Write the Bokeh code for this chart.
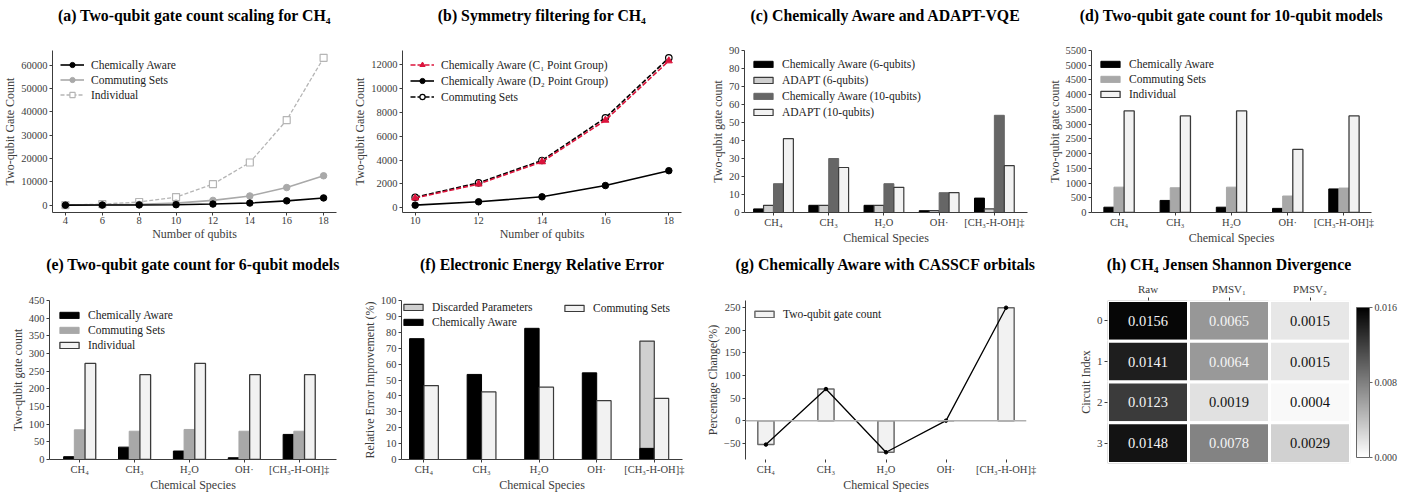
from bokeh.plotting import figure
from bokeh.layouts import row, column
from bokeh.models import (Range1d, FixedTicker, Legend, LegendItem, LinearColorMapper, ColorBar,
                          Span, PrintfTickFormatter, NumeralTickFormatter, ColumnDataSource, Title)
from bokeh.core.properties import value
from bokeh.embed import file_html
from bokeh.resources import INLINE

FONT = "Liberation Serif"

# ---------------- data ----------------
qubits_a = [4, 6, 8, 10, 12, 14, 16, 18]
a_chem = [10, 40, 100, 200, 480, 900, 1850, 3100]
a_comm = [20, 110, 350, 860, 2050, 3950, 7550, 12600]
a_indiv = [50, 450, 1350, 3450, 9000, 18300, 36500, 63200]

qubits_b = [10, 12, 14, 16, 18]
b_c1 = [800, 1980, 3850, 7350, 12350]
b_d2 = [200, 480, 900, 1850, 3100]
b_comm = [860, 2080, 3960, 7550, 12600]

species = ["CH₄", "CH₃", "H₂O", "OH·", "[CH₃-H-OH]‡"]

c_chem6 = [2, 4, 4, 1, 8]
c_adapt6 = [4, 4, 4, 1, 2]
c_chem10 = [16, 30, 16, 11, 54]
c_adapt10 = [41, 25, 14, 11, 26]

d_chem = [180, 410, 180, 140, 800]
d_comm = [860, 840, 860, 560, 830]
d_indiv = [3450, 3280, 3450, 2140, 3280]

e_chem = [8, 35, 24, 5, 71]
e_comm = [84, 80, 85, 80, 80]
e_indiv = [272, 240, 272, 240, 240]

f_chem = [76, 53.5, 82.5, 54.5, 7]
f_comm = [46.5, 42.5, 45.5, 37, 38.5]
f_discarded = [0, 0, 0, 0, 74.5]

g_change = [-53, 70, -70, 0, 250]

h_methods = ["Raw", "PMSV₁", "PMSV₂"]
h_circuits = ["0", "1", "2", "3"]
h_raw = [0.0156, 0.0141, 0.0123, 0.0148]
h_pmsv1 = [0.0065, 0.0064, 0.0019, 0.0078]
h_pmsv2 = [0.0015, 0.0015, 0.0004, 0.0029]
h_vmax = 0.016

# ---------------- layout constants ----------------
TOP_H, BOT_H = 247, 247
TOP_BB, BOT_BB = 35, 31
TOP_STAND, TOP_SPACER = 9, 19
BOT_STAND, BOT_SPACER = 13, 18
AX = "#3c3c3c"


def padded(vals, frac=0.05):
    lo, hi = min(vals), max(vals)
    d = (hi - lo) * frac
    return Range1d(lo - d, hi + d)


def make_fig(w, h, bl, br, bb, xr, yr, title, standoff, spacer, xlabel=None, ylabel=None, **kw):
    p = figure(width=w, height=h, x_range=xr, y_range=yr, output_backend="svg",
               toolbar_location=None, min_border_left=bl, min_border_right=br,
               min_border_top=0, min_border_bottom=bb, title=title, **kw)
    p.frame_align = False
    p.title.text_font = FONT
    p.title.text_font_size = "15.8px"
    p.title.text_font_style = "bold"
    p.title.text_color = "black"
    p.title.align = "center"
    p.title.vertical_align = "bottom"
    p.title.standoff = standoff
    if spacer:
        p.add_layout(Title(text=" ", text_font_size="1px", standoff=spacer), "above")
    p.outline_line_color = None
    p.xgrid.visible = False
    p.ygrid.visible = False
    for ax in p.axis:
        ax.axis_line_color = AX
        ax.axis_line_width = 1
        ax.major_tick_line_color = AX
        ax.major_tick_out = 3
        ax.major_tick_in = 0
        ax.minor_tick_line_color = None
        ax.major_label_text_font = FONT
        ax.major_label_text_font_size = "10.5px"
        ax.major_label_text_color = AX
        ax.major_label_standoff = 2
        ax.axis_label_text_font = FONT
        ax.axis_label_text_font_size = "12px"
        ax.axis_label_text_font_style = "normal"
        ax.axis_label_text_color = AX
        ax.axis_label_standoff = 1
    p.xaxis.major_label_standoff = 1
    p.xaxis.axis_label_standoff = 0
    if xlabel:
        p.xaxis.axis_label = xlabel
    if ylabel:
        p.yaxis.axis_label = ylabel
    return p


def add_legend(p, items, spacing=2, glyph_h=13, padding=8, location="top_left"):
    lg = Legend(items=[LegendItem(label=l, renderers=r) for l, r in items],
                location=location, orientation="vertical",
                padding=padding, margin=0, spacing=spacing, glyph_width=24, glyph_height=glyph_h,
                label_height=13, label_standoff=7,
                label_text_font=FONT, label_text_font_size="11.5px", label_text_color="#222222",
                background_fill_alpha=0, border_line_alpha=0)
    p.add_layout(lg)


def cat_axis(p):
    p.xaxis.ticker = FixedTicker(ticks=list(range(len(species))))
    p.xaxis.major_label_overrides = {i: s for i, s in enumerate(species)}


def yticks(p, ticks):
    p.yaxis.ticker = FixedTicker(ticks=ticks)
    p.yaxis.formatter = NumeralTickFormatter(format="0")


idx = list(range(len(species)))

# ---------------- (a) ----------------
pa = make_fig(350, TOP_H, 52, 14, TOP_BB, padded(qubits_a), padded(a_chem + a_comm + a_indiv),
              "(a) Two-qubit gate count scaling for CH₄", TOP_STAND, TOP_SPACER,
              "Number of qubits", "Two-qubit Gate Count")
ri = pa.line(qubits_a, a_indiv, line_color="#b5b5b5", line_width=1.3, line_dash="4 2")
rim = pa.scatter(qubits_a, a_indiv, marker="square", size=7, fill_color="white", line_color="#b5b5b5", line_width=1.2)
rc = pa.line(qubits_a, a_comm, line_color="#a9a9a9", line_width=1.6)
rcm = pa.scatter(qubits_a, a_comm, marker="circle", size=6.5, fill_color="#a9a9a9", line_color="#a9a9a9")
rk = pa.line(qubits_a, a_chem, line_color="black", line_width=1.6)
rkm = pa.scatter(qubits_a, a_chem, marker="circle", size=6.5, fill_color="black", line_color="black")
pa.xaxis.ticker = FixedTicker(ticks=qubits_a)
yticks(pa, list(range(0, 60001, 10000)))
add_legend(pa, [("Chemically Aware", [rk, rkm]), ("Commuting Sets", [rc, rcm]), ("Individual", [ri, rim])])

# ---------------- (b) ----------------
pb = make_fig(356, TOP_H, 46, 25, TOP_BB, padded(qubits_b), padded(b_c1 + b_d2 + b_comm),
              "(b) Symmetry filtering for CH₄", TOP_STAND, TOP_SPACER,
              "Number of qubits", "Two-qubit Gate Count")
r2 = pb.line(qubits_b, b_d2, line_color="black", line_width=1.6)
r2m = pb.scatter(qubits_b, b_d2, marker="circle", size=6.5, fill_color="black", line_color="black")
rs = pb.line(qubits_b, b_comm, line_color="black", line_width=1.6, line_dash="5 2")
rsm = pb.scatter(qubits_b, b_comm, marker="circle", size=6.5, fill_color="white", line_color="black", line_width=1.2)
r1 = pb.line(qubits_b, b_c1, line_color="#dc143c", line_width=1.6, line_dash="5 2")
r1m = pb.scatter(qubits_b, b_c1, marker="triangle", size=7, fill_color="#dc143c", line_color="#dc143c")
pb.xaxis.ticker = FixedTicker(ticks=qubits_b)
yticks(pb, list(range(0, 12001, 2000)))
add_legend(pb, [("Chemically Aware (C₁ Point Group)", [r1, r1m]),
                ("Chemically Aware (D₂ Point Group)", [r2, r2m]),
                ("Commuting Sets", [rs, rsm])], spacing=3)

# ---------------- (c) ----------------
wc = 0.18
pc = make_fig(338, TOP_H, 38, 17, TOP_BB, Range1d(-0.525, 4.6), Range1d(0, 90),
              "(c) Chemically Aware and ADAPT-VQE", TOP_STAND, TOP_SPACER,
              "Chemical Species", "Two-qubit gate count")
rc1 = pc.vbar(x=[i - 1.5 * wc for i in idx], top=c_chem6, width=wc, fill_color="black", line_color="black")
rc2 = pc.vbar(x=[i - 0.5 * wc for i in idx], top=c_adapt6, width=wc, fill_color="#cfcfcf", line_color="#3a3a3a", line_width=1.2)
rc3 = pc.vbar(x=[i + 0.5 * wc for i in idx], top=c_chem10, width=wc, fill_color="#666666", line_color="#666666")
rc4 = pc.vbar(x=[i + 1.5 * wc for i in idx], top=c_adapt10, width=wc, fill_color="#f2f2f2", line_color="#3a3a3a", line_width=1.2)
cat_axis(pc)
yticks(pc, list(range(0, 91, 10)))
add_legend(pc, [("Chemically Aware (6-qubits)", [rc1]), ("ADAPT (6-qubits)", [rc2]),
                ("Chemically Aware (10-qubits)", [rc3]), ("ADAPT (10-qubits)", [rc4])],
           spacing=3, glyph_h=8, padding=7)

# ---------------- (d) ----------------
wd = 0.18
pd_ = make_fig(362, TOP_H, 41, 35, TOP_BB, Range1d(-0.49, 4.49), Range1d(0, 5500),
               "(d) Two-qubit gate count for 10-qubit models", TOP_STAND, TOP_SPACER,
               "Chemical Species", "Two-qubit gate count")
rd1 = pd_.vbar(x=[i - wd for i in idx], top=d_chem, width=wd, fill_color="black", line_color="black")
rd2 = pd_.vbar(x=idx, top=d_comm, width=wd, fill_color="#a8a8a8", line_color="#a8a8a8")
rd3 = pd_.vbar(x=[i + wd for i in idx], top=d_indiv, width=wd, fill_color="#f2f2f2", line_color="#3a3a3a", line_width=1.3)
cat_axis(pd_)
yticks(pd_, list(range(0, 5501, 500)))
add_legend(pd_, [("Chemically Aware", [rd1]), ("Commuting Sets", [rd2]), ("Individual", [rd3])],
           glyph_h=8, padding=7)

# ---------------- (e) ----------------
we = 0.195
pe = make_fig(355, BOT_H, 49, 19, BOT_BB, Range1d(-0.55, 4.68), Range1d(0, 450),
              "(e) Two-qubit gate count for 6-qubit models", BOT_STAND, BOT_SPACER,
              "Chemical Species", "Two-qubit gate count")
re1 = pe.vbar(x=[i - we for i in idx], top=e_chem, width=we, fill_color="black", line_color="black")
re2 = pe.vbar(x=idx, top=e_comm, width=we, fill_color="#a8a8a8", line_color="#a8a8a8")
re3 = pe.vbar(x=[i + we for i in idx], top=e_indiv, width=we, fill_color="#f2f2f2", line_color="#3a3a3a", line_width=1.3)
cat_axis(pe)
yticks(pe, list(range(0, 451, 50)))
add_legend(pe, [("Chemically Aware", [re1]), ("Commuting Sets", [re2]), ("Individual", [re3])],
           glyph_h=8, padding=8)

# ---------------- (f) ----------------
wf = 0.25
pf = make_fig(348, BOT_H, 46, 21, BOT_BB, Range1d(-0.39, 4.49), Range1d(0, 100),
              "(f) Electronic Energy Relative Error", BOT_STAND, BOT_SPACER,
              "Chemical Species", "Relative Error Improvement (%)")
rf0 = pf.vbar(x=[i - wf / 2 for i in idx], top=f_discarded, width=wf, fill_color="#d0d0d0", line_color="#3a3a3a", line_width=1.2)
rf1 = pf.vbar(x=[i - wf / 2 for i in idx], top=f_chem, width=wf, fill_color="black", line_color="black")
rf2 = pf.vbar(x=[i + wf / 2 for i in idx], top=f_comm, width=wf, fill_color="#f2f2f2", line_color="#3a3a3a", line_width=1.2)
cat_axis(pf)
yticks(pf, list(range(0, 101, 10)))
add_legend(pf, [("Discarded Parameters", [rf0]), ("Chemically Aware", [rf1])], glyph_h=8, padding=0)
F_FH = 160
add_legend(pf, [("Commuting Sets", [rf2])], glyph_h=8, padding=0, location=(161, F_FH - 15))

# ---------------- (g) ----------------
wg = 0.27
pg = make_fig(337, BOT_H, 38, 14, BOT_BB, Range1d(-0.34, 4.34), padded(g_change),
              "(g) Chemically Aware with CASSCF orbitals", BOT_STAND, BOT_SPACER,
              "Chemical Species", "Percentage Change(%)")
pg.add_layout(Span(location=0, dimension="width", line_color="#b0b0b0", line_width=1.5))
rg = pg.vbar(x=idx, top=g_change, width=wg, fill_color="#f2f2f2", line_color="#6a6a6a", line_width=1.5)
pg.line(idx, g_change, line_color="black", line_width=1.3)
pg.scatter(idx, g_change, marker="circle", size=3.5, fill_color="black", line_color="black")
cat_axis(pg)
pg.xaxis.axis_line_color = None
pg.yaxis.ticker = FixedTicker(ticks=list(range(-50, 251, 50)))
pg.yaxis.major_label_overrides = {-50: "−50"}
add_legend(pg, [("Two-qubit gate count", [rg])], glyph_h=8, padding=7)

# ---------------- (h) ----------------
ph = make_fig(366, BOT_H, 67, 55, BOT_BB, Range1d(0, len(h_methods)), Range1d(len(h_circuits), 0),
              "(h) CH₄ Jensen Shannon Divergence", BOT_STAND, 0, None, "Circuit Index",
              x_axis_location="above")
palette = ["#%02x%02x%02x" % (v, v, v) for v in range(255, -1, -1)]
mapper = LinearColorMapper(palette=palette, low=0, high=h_vmax)
hx, hy, hv, ht, hc = [], [], [], [], []
for j, col in enumerate([h_raw, h_pmsv1, h_pmsv2]):
    for i, v in enumerate(col):
        hx.append(j + 0.5)
        hy.append(i + 0.5)
        hv.append(v)
        ht.append("%.4f" % v)
        g = 1 - min(v / h_vmax, 1)
        lum = g ** 2.2
        hc.append("#f5f5f5" if lum < 0.408 else "#111111")
src = ColumnDataSource(dict(x=hx, y=hy, v=hv, t=ht, c=hc))
ph.rect(x="x", y="y", width=1, height=1, source=src, fill_color={"field": "v", "transform": mapper},
        line_color="white", line_width=3)
ph.text(x="x", y="y", text="t", source=src, text_color="c", text_align="center", text_baseline="middle",
        text_font=value(FONT), text_font_size="14.5px")
ph.xaxis.ticker = FixedTicker(ticks=[j + 0.5 for j in range(len(h_methods))])
ph.xaxis.major_label_overrides = {j + 0.5: m for j, m in enumerate(h_methods)}
ph.yaxis.ticker = FixedTicker(ticks=[i + 0.5 for i in range(len(h_circuits))])
ph.yaxis.major_label_overrides = {i + 0.5: c for i, c in enumerate(h_circuits)}
for ax in ph.axis:
    ax.axis_line_color = None
    ax.major_label_text_font_size = "11px"
ph.xaxis.major_label_standoff = 3
cb = ColorBar(color_mapper=mapper, ticker=FixedTicker(ticks=[0, h_vmax / 2, h_vmax]),
              formatter=PrintfTickFormatter(format="%.3f"), width=13, height=150, padding=6, margin=0,
              location="center_left", bar_line_color="#666666", bar_line_width=1,
              major_tick_line_color="#666666", major_tick_out=3, major_tick_in=0, minor_tick_line_color=None,
              major_label_text_font=FONT, major_label_text_font_size="10px", major_label_text_color=AX,
              label_standoff=2, background_fill_alpha=0, border_line_alpha=0)
ph.add_layout(cb, "right")

layout = column(row(pa, pb, pc, pd_), row(pe, pf, pg, ph))
open("out.html", "w").write(file_html(layout, INLINE))
